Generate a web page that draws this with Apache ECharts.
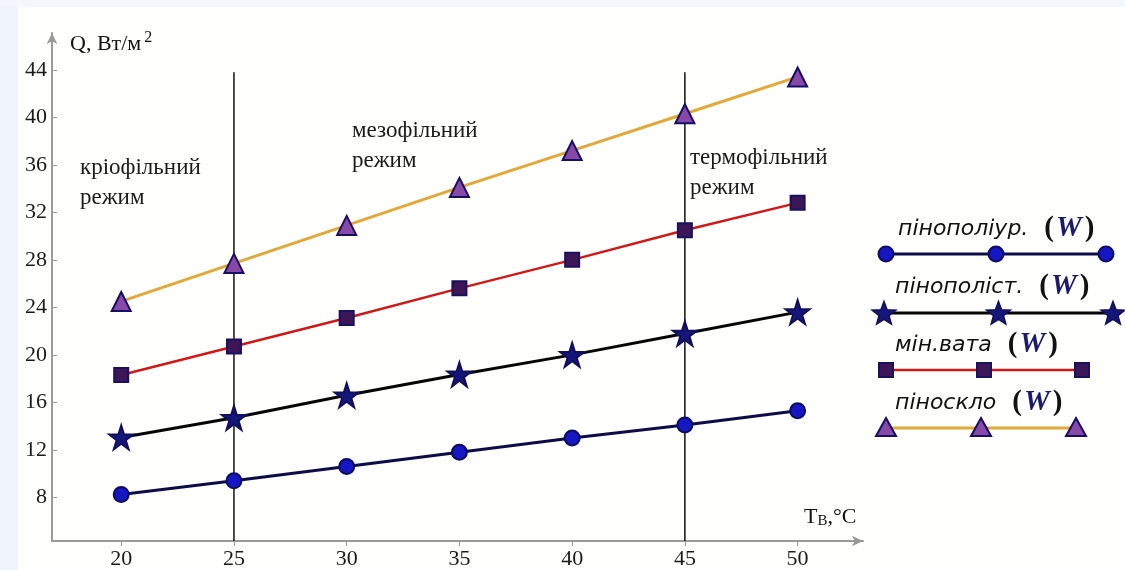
<!DOCTYPE html>
<html><head><meta charset="utf-8">
<script src="https://cdn.jsdelivr.net/npm/echarts@6/dist/echarts.min.js"></script>
<style>html,body{margin:0;padding:0;background:#fff}#c{width:1125px;height:570px}</style>
</head><body><div id="c"></div>
<script>
const temps = [20, 25, 30, 35, 40, 45, 50];
const xTicks = [20, 25, 30, 35, 40, 45, 50];
const yTicks = [8, 12, 16, 20, 24, 28, 32, 36, 40, 44];
const pinopoliur = [8.25, 9.4, 10.6, 11.8, 13.0, 14.1, 15.3];
const pinopolist = [13.05, 14.7, 16.6, 18.35, 20.0, 21.8, 23.6];
const minvata = [18.3, 20.7, 23.1, 25.6, 28.0, 30.5, 32.8];
const pinosklo = [24.5, 27.7, 30.9, 34.1, 37.2, 40.3, 43.4];
const regimeBounds = [25, 45];
const regimeTop = 43.8;
const names = ['пінополіур.', 'пінополіст.', 'мін.вата', 'піноскло'];

const X_MIN = 16.93, X_MAX = 52.9, Y_MIN = 4.33, Y_MAX = 47.1;
const pair = arr => temps.map((t, i) => [t, arr[i]]);

const serif = 'Liberation Serif';
const STAR = 'path://M50,0 L61.8,36.2 L100,36.2 L69.1,58.8 L80.9,95.1 L50,72.7 L19.1,95.1 L30.9,58.8 L0,36.2 L38.2,36.2 Z';
const styles = [
  {symbol: 'circle', size: 15, fill: '#1616c4', border: '#0d0d60', line: '#0c0c48', lw: 3},
  {symbol: STAR, size: 24, fill: '#16167a', border: '#10105a', line: '#050505', lw: 3},
  {symbol: 'rect', size: 14, fill: '#3c1656', border: '#1a1060', line: '#d01818', lw: 2.5},
  {symbol: 'triangle', size: 19, fill: '#8848a8', border: '#160e62', line: '#e2a838', lw: 3}
];
const dataSets = [pinopoliur, pinopolist, minvata, pinosklo];

const series = dataSets.map((d, i) => ({
  type: 'line', name: names[i], data: pair(d),
  symbol: styles[i].symbol, symbolSize: styles[i].size,
  lineStyle: {color: styles[i].line, width: styles[i].lw},
  itemStyle: {color: styles[i].fill, borderColor: styles[i].border, borderWidth: 2},
  z: 5 + i, animation: false
}));
regimeBounds.forEach(b => series.push({
  type: 'line', data: [[b, Y_MIN], [b, regimeTop]], symbol: 'none',
  lineStyle: {color: '#111', width: 1.5}, z: 4, animation: false, silent: true
}));

function starPoints(cx, cy, R) {
  const pts = [];
  for (let k = 0; k < 10; k++) {
    const a = -Math.PI / 2 + k * Math.PI / 5;
    const r = k % 2 === 0 ? R : R * 0.42;
    pts.push([cx + r * Math.cos(a), cy + r * Math.sin(a)]);
  }
  return pts;
}

const legendRows = [
  {ty: 229, ly: 254, x0: 886, x1: 1106, tx: 898},
  {ty: 287, ly: 313, x0: 884, x1: 1113, tx: 895},
  {ty: 345, ly: 370, x0: 886, x1: 1082, tx: 895},
  {ty: 403, ly: 428, x0: 886, x1: 1076, tx: 895}
];
const graphic = [
  {type: 'rect', shape: {x: 0, y: 0, width: 18, height: 570}, style: {fill: '#eef4fa'}, z: -10},
  {type: 'rect', shape: {x: 0, y: 0, width: 1125, height: 7}, style: {fill: '#f3f7fb'}, z: -10}
];
legendRows.forEach((r, i) => {
  const s = styles[i];
  graphic.push({type: 'line', shape: {x1: r.x0, y1: r.ly, x2: r.x1, y2: r.ly}, style: {stroke: s.line, lineWidth: s.lw}, z: 10});
  const xm = (r.x0 + r.x1) / 2;
  [r.x0, xm, r.x1].forEach(x => {
    if (i === 0) graphic.push({type: 'circle', shape: {cx: x, cy: r.ly, r: 7.5}, style: {fill: s.fill, stroke: s.border, lineWidth: 2}, z: 11});
    else if (i === 1) graphic.push({type: 'polygon', shape: {points: starPoints(x, r.ly + 1, 12.5)}, style: {fill: s.fill, stroke: s.border, lineWidth: 1.5}, z: 11});
    else if (i === 2) graphic.push({type: 'rect', shape: {x: x - 7, y: r.ly - 7, width: 14, height: 14}, style: {fill: s.fill, stroke: s.border, lineWidth: 2}, z: 11});
    else graphic.push({type: 'polygon', shape: {points: [[x, r.ly - 10], [x + 10, r.ly + 8], [x - 10, r.ly + 8]]}, style: {fill: s.fill, stroke: s.border, lineWidth: 2}, z: 11});
  });
  graphic.push({type: 'text', x: r.tx, y: r.ty, style: {
    text: '{n|' + names[i] + '}{p|(}{w|W}{p|)}', verticalAlign: 'middle',
    rich: {
      n: {fontFamily: 'DejaVu Sans', fontStyle: 'italic', fontSize: 22, fill: '#111', padding: [0, 16, 0, 0]},
      p: {fontFamily: serif, fontWeight: 'bold', fontSize: 29, fill: '#111'},
      w: {fontFamily: serif, fontWeight: 'bold', fontStyle: 'italic', fontSize: 29, fill: '#1a1a6e', padding: [0, 3, 0, 2]}
    }}, z: 12});
});

const notes = [
  {x: 80, y: 183, t: 'кріофільний\nрежим'},
  {x: 352, y: 146, t: 'мезофільний\nрежим'},
  {x: 690, y: 173, t: 'термофільний\nрежим'}
];
notes.forEach(n => graphic.push({type: 'text', x: n.x, y: n.y, style: {text: n.t, fontFamily: serif, fontSize: 23, lineHeight: 30, fill: '#1a1a1a', verticalAlign: 'middle'}, z: 12}));
graphic.push({type: 'text', x: 70, y: 44, style: {text: '{a|Q, Вт/м}{s|2}', verticalAlign: 'middle', rich: {a: {fontFamily: serif, fontSize: 22, fill: '#111'}, s: {fontFamily: serif, fontSize: 16, fill: '#111', verticalAlign: 'top', padding: [0, 0, 12, 3]}}}, z: 12});
graphic.push({type: 'text', x: 804, y: 517, style: {text: '{a|T}{s|В}{a|,°C}', verticalAlign: 'middle', rich: {a: {fontFamily: serif, fontSize: 22, fill: '#111'}, s: {fontFamily: serif, fontSize: 15, fill: '#111', padding: [9, 0, 0, 0]}}}, z: 12});

const chart = echarts.init(document.getElementById('c'), null, {renderer: 'canvas'});
chart.setOption({
  backgroundColor: '#fefefd',
  animation: false,
  grid: {left: 52, right: 262, top: 33, bottom: 25, containLabel: false},
  xAxis: {
    type: 'value', min: X_MIN, max: X_MAX,
    axisLine: {lineStyle: {color: '#9a9a9a', width: 2}, symbol: ['none', 'arrow'], symbolSize: [8, 11]},
    axisTick: {show: true, customValues: xTicks, length: 5, inside: false, lineStyle: {color: '#9a9a9a'}},
    axisLabel: {customValues: xTicks, fontFamily: serif, fontSize: 22, color: '#1a1a1a', margin: 7},
    splitLine: {show: false}
  },
  yAxis: {
    type: 'value', min: Y_MIN, max: Y_MAX,
    axisLine: {show: true, lineStyle: {color: '#9a9a9a', width: 2}, symbol: ['none', 'arrow'], symbolSize: [8, 11]},
    axisTick: {show: true, customValues: yTicks, length: 5, inside: true, lineStyle: {color: '#9a9a9a'}},
    axisLabel: {customValues: yTicks, fontFamily: serif, fontSize: 22, color: '#1a1a1a', margin: 5},
    splitLine: {show: false}
  },
  graphic: graphic,
  series: series
});
</script></body></html>
